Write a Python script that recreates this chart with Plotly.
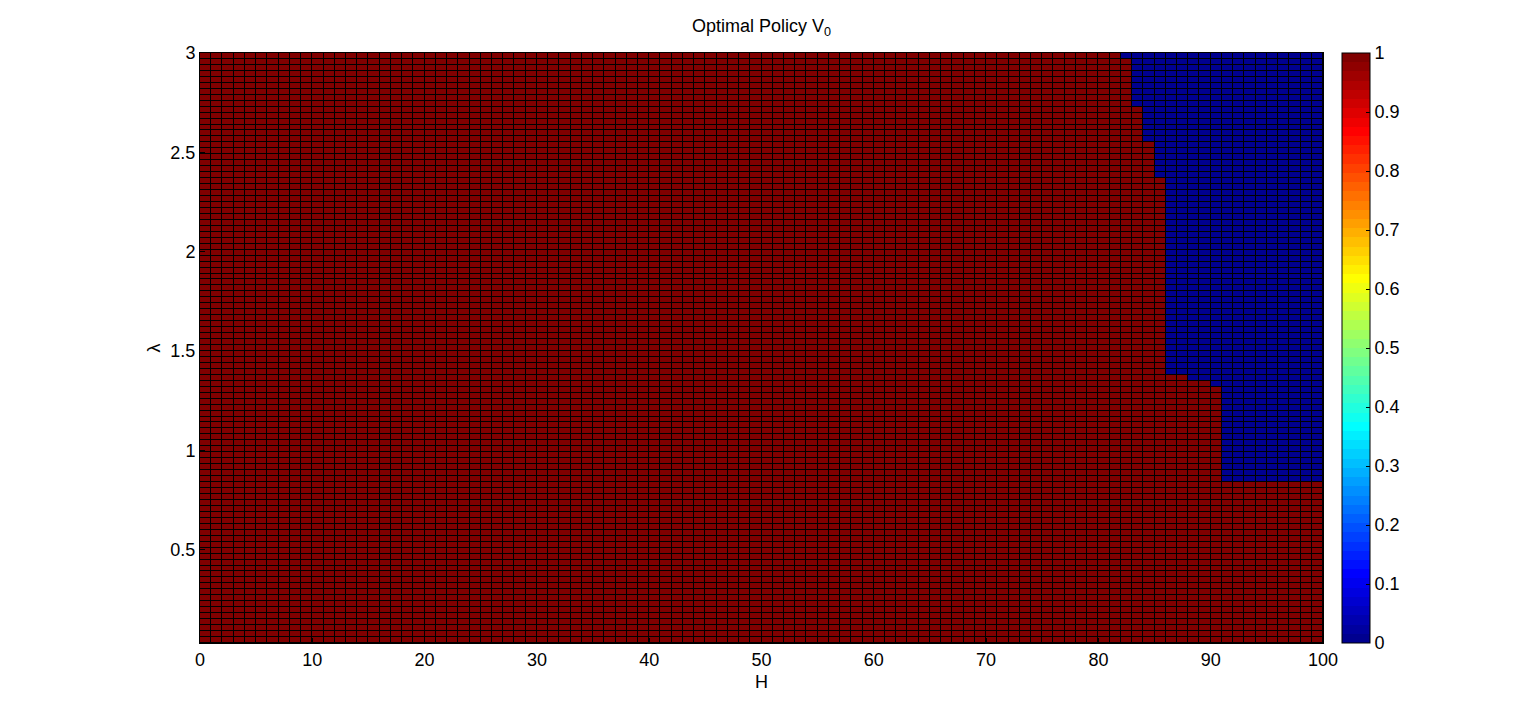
import plotly.graph_objects as go

# H grid (column edges) and lambda grid (row edges), as in pcolor(H, lambda, V0)
H = list(range(0, 101))
LAM = [round(0.03 * k, 2) for k in range(1, 101)]

# first H column that is 0 (blue) in each lambda row, bottom row first; 100 = none
BLUE_START = (
    [100] * 27      # lambda 0.03 .. 0.81
    + [91] * 16     # lambda 0.84 .. 1.29
    + [90, 88]      # lambda 1.32, 1.35
    + [86] * 33     # lambda 1.38 .. 2.34
    + [85] * 6      # lambda 2.37 .. 2.52
    + [84] * 6      # lambda 2.55 .. 2.70
    + [83] * 8      # lambda 2.73 .. 2.94
    + [82]          # lambda 2.97
)

CBAR_TICKS = [0, 0.1, 0.2, 0.3, 0.4, 0.5, 0.6, 0.7, 0.8, 0.9, 1]


def jet(m=64):
    # same construction as MATLAB's jet(m)
    n = -(-m // 4)
    u = [i / n for i in range(1, n + 1)] + [1.0] * (n - 1) + [i / n for i in range(n, 0, -1)]
    g0 = -(-n // 2) - (1 if m % 4 == 1 else 0)
    cols = [[0.0, 0.0, 0.0] for _ in range(m)]
    for i, val in enumerate(u, start=1):
        g = g0 + i
        r = g + n
        b = g - n
        if 1 <= r <= m:
            cols[r - 1][0] = val
        if 1 <= g <= m:
            cols[g - 1][1] = val
        if 1 <= b <= m:
            cols[b - 1][2] = val
    return [f"rgb({round(c[0]*255)},{round(c[1]*255)},{round(c[2]*255)})" for c in cols]


colors = jet(64)
scale = []
for i, c in enumerate(colors):
    scale.append([i / 64, c])
    scale.append([(i + 1) / 64, c])

z = [[0 if j >= b else 1 for j in range(len(H) - 1)] for b in BLUE_START]

FONT = "Liberation Sans, Arial, sans-serif"

# page body adds ~8px margin, so the figure is sized to fit inside it
W, HT = 1529, 715
L, T = 192, 45
PW, PH = 1123, 590

fig = go.Figure(
    go.Heatmap(
        x=H,
        y=LAM,
        z=z,
        zmin=0,
        zmax=1,
        colorscale=scale,
        xgap=1,
        ygap=1,
        colorbar=dict(
            x=1 + 19 / PW,
            xanchor="left",
            xpad=0,
            y=0.5,
            yanchor="middle",
            ypad=0,
            len=1,
            lenmode="fraction",
            thickness=28,
            outlinewidth=1,
            outlinecolor="black",
            tickvals=CBAR_TICKS,
            ticktext=[f"{t:g}" for t in CBAR_TICKS],
            ticks="inside",
            ticklen=4,
            tickcolor="black",
            tickfont=dict(family=FONT, size=18, color="black"),
        ),
    )
)

fig.update_layout(
    width=W,
    height=HT,
    margin=dict(l=L, r=W - L - PW, t=T, b=HT - T - PH),
    paper_bgcolor="white",
    plot_bgcolor="black",
    font=dict(family=FONT, color="black"),
    title=dict(
        text="Optimal Policy V<sub>0</sub>",
        x=(L + PW / 2) / W,
        xanchor="center",
        y=1 - 18 / HT,
        yanchor="middle",
        font=dict(family=FONT, size=18, color="black"),
    ),
    xaxis=dict(
        range=[0, 100],
        tickvals=[0, 10, 20, 30, 40, 50, 60, 70, 80, 90, 100],
        ticks="inside",
        ticklen=5,
        tickcolor="black",
        showline=True,
        linecolor="black",
        mirror=True,
        showgrid=False,
        zeroline=False,
        tickfont=dict(size=18),
        title=dict(text="H", font=dict(size=18), standoff=6),
    ),
    yaxis=dict(
        range=[0.03, 3],
        tickvals=[0.5, 1, 1.5, 2, 2.5, 3],
        ticks="inside",
        ticklen=5,
        tickcolor="black",
        showline=True,
        linecolor="black",
        mirror=True,
        showgrid=False,
        zeroline=False,
        tickfont=dict(size=18),
        title=dict(text="λ", font=dict(size=18), standoff=5),
    ),
)

fig.write_html("out.html")
